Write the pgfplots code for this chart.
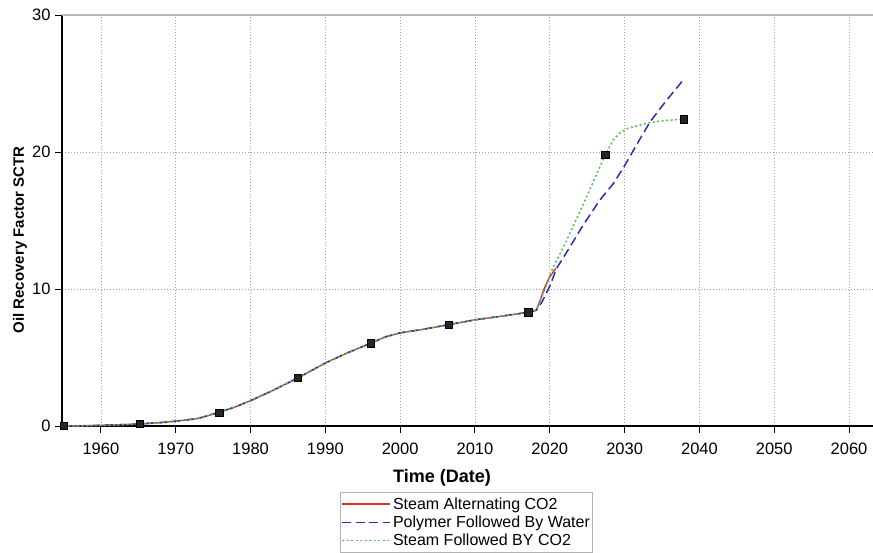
\documentclass[border=0pt]{standalone}
\usepackage{pgfplots}
\pgfplotsset{compat=1.18}
\usepackage{fontspec}
\setmainfont{Liberation Sans}

\definecolor{sacred}{RGB}{214,48,48}
\definecolor{pfwblue}{RGB}{44,44,180}
\definecolor{sfcgreen}{RGB}{80,196,80}

\begin{document}
\begin{tikzpicture}
\begin{axis}[
  name=ax,
  scale only axis,
  width=811pt, height=411pt,
  xmin=1954.8, xmax=2063.2,
  ymin=0, ymax=30,
  axis x line*=bottom,
  axis y line*=left,
  axis line style={black, line width=1.3pt},
  clip=false,
  xtick={1960,1970,...,2060},
  ytick={0,10,20,30},
  tick align=outside,
  major tick length=7pt,
  tick style={black, line width=1pt},
  grid=major,
  major grid style={gray!75, line width=0.8pt, dash pattern=on 1pt off 2pt},
  /pgf/number format/1000 sep={},
  /pgf/number format/assume math mode=true,
  tick label style={font=\fontsize{16.5}{18}\selectfont},
  xticklabel style={yshift=-6pt},
  yticklabel style={xshift=-1pt},
  xlabel={\textbf{Time (Date)}},
  ylabel={\textbf{Oil Recovery Factor SCTR}},
  xlabel style={font=\fontsize{18}{20}\selectfont, at={(axis description cs:0.4686,-0.1265)}, anchor=center},
  ylabel style={font=\fontsize{15}{17}\selectfont, at={(axis description cs:-0.0518,0.4526)}, anchor=center},
  legend style={
    at={(axis description cs:0.343,-0.1606)}, anchor=north west,
    draw=gray!60, line width=0.8pt,
    font=\fontsize{16}{17.5}\selectfont,
    inner xsep=1pt, inner ysep=3pt,
    row sep=1.2pt,
    cells={anchor=west},
  },
  legend image code/.code={\draw[#1] (0pt,0pt) -- (48pt,0pt);},
]
% Steam Alternating CO2
\addplot[sacred, line width=1.4pt] coordinates {
 (1955,0) (1958,0.02) (1960,0.05) (1963,0.1) (1965.2,0.15) (1968,0.25) (1970,0.35)
 (1973,0.55) (1975.8,1.0) (1978,1.4) (1980,1.85) (1983,2.6) (1986.3,3.5) (1990,4.6)
 (1993,5.35) (1996.1,6.05) (1998,6.5) (2000,6.8) (2003,7.05) (2006.5,7.4) (2010,7.75)
 (2014,8.05) (2017.1,8.3) (2018.2,8.45) (2018.8,9.3) (2019.3,10.1) (2020,10.9) (2020.8,11.5)
};
\addlegendentry{Steam Alternating CO2}
% Polymer Followed By Water
\addplot[pfwblue, line width=1.5pt, dash pattern=on 9pt off 4.5pt] coordinates {
 (1955,0) (1958,0.02) (1960,0.05) (1963,0.1) (1965.2,0.15) (1968,0.25) (1970,0.35)
 (1973,0.55) (1975.8,1.0) (1978,1.4) (1980,1.85) (1983,2.6) (1986.3,3.5) (1990,4.6)
 (1993,5.35) (1996.1,6.05) (1998,6.5) (2000,6.8) (2003,7.05) (2006.5,7.4) (2010,7.75)
 (2014,8.05) (2017.1,8.3) (2018.2,8.45) (2019,9.1) (2020,10.2) (2020.9,11.5) (2022.5,12.9)
 (2024.5,14.7) (2026.7,16.5) (2028.5,17.7) (2030,19.0) (2032,20.9) (2033.4,22.2)
 (2035.5,23.7) (2037.9,25.3)
};
\addlegendentry{Polymer Followed By Water}
% Steam Followed BY CO2
\addplot[sfcgreen, line width=1.5pt, dash pattern=on 2pt off 2.5pt] coordinates {
 (1955,0) (1958,0.02) (1960,0.05) (1963,0.1) (1965.2,0.15) (1968,0.25) (1970,0.35)
 (1973,0.55) (1975.8,1.0) (1978,1.4) (1980,1.85) (1983,2.6) (1986.3,3.5) (1990,4.6)
 (1993,5.35) (1996.1,6.05) (1998,6.5) (2000,6.8) (2003,7.05) (2006.5,7.4) (2010,7.75)
 (2014,8.05) (2017.1,8.3) (2018.2,8.45) (2019.3,9.9) (2020.3,11.4) (2022.3,13.6)
 (2024.9,16.7) (2027.4,19.8) (2028.5,20.9) (2029.5,21.45) (2030.5,21.75) (2033.4,22.15)
 (2035.5,22.3) (2037.9,22.4)
};
\addlegendentry{Steam Followed BY CO2}
% sample markers along the curves
\addplot[only marks, mark=square*, mark size=3.6pt, mark options={fill=black!85, draw=black}, forget plot] coordinates {
 (1955,0) (1965.2,0.15) (1975.8,1.0) (1986.3,3.5) (1996.1,6.05) (2006.5,7.4)
 (2017.1,8.3) (2027.4,19.8) (2037.9,22.4)
};
% upper frame line
\draw[gray!55, line width=1.5pt] (rel axis cs:0,1) -- (rel axis cs:1,1);
\end{axis}
\pgfresetboundingbox
\path ([shift={(-62pt,-126pt)}]ax.south west) rectangle ([shift={(0pt,15pt)}]ax.north east);
\end{tikzpicture}
\end{document}
